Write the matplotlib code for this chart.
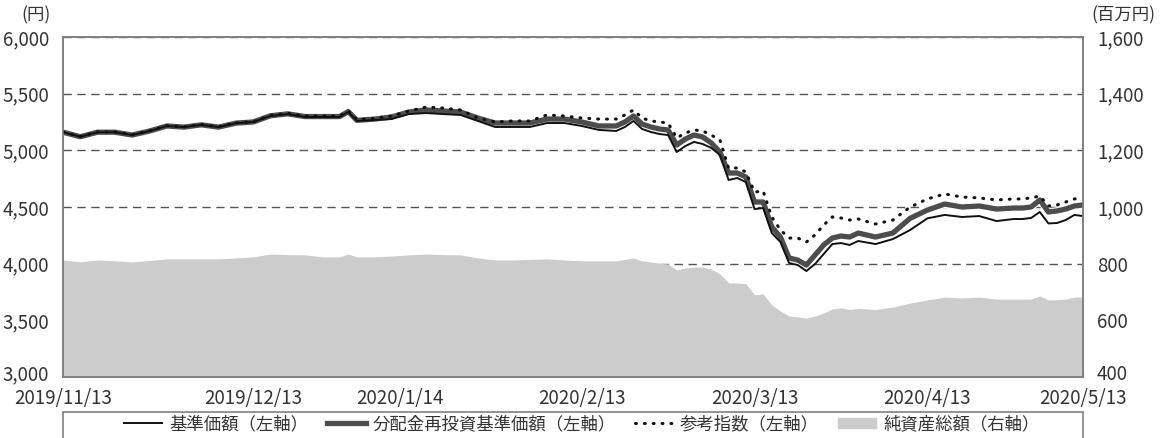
import matplotlib
matplotlib.use("Agg")
import matplotlib.pyplot as plt
import matplotlib.patheffects as pe
import matplotlib.transforms as mtransforms
from matplotlib.patches import Rectangle

plt.rcParams['font.family'] = ['Noto Sans CJK JP', 'DejaVu Sans']

# business-day index of each sample
idx = [0, 2, 4, 6, 8, 10, 12, 14, 16, 18, 20, 22, 24, 26, 28, 30, 32, 33, 34, 36,
       38, 40, 42, 44, 46, 48, 50, 52, 54, 56, 58, 60, 62, 64, 65, 66, 67, 68, 69, 70,
       71, 72, 73, 74, 75, 76, 77, 78, 79, 80, 81, 82, 83, 84, 85, 86, 87, 88, 89, 90,
       91, 92, 94, 96, 98, 100, 102, 104, 106, 108, 110, 111, 112, 113, 114, 115, 116, 117, 118]

# 基準価額 (円)
nav = [5160, 5120, 5160, 5160, 5135, 5170, 5215, 5205, 5225, 5205, 5240, 5250, 5303, 5320, 5294, 5294, 5294, 5338, 5259, 5268,
       5276, 5320, 5329, 5320, 5312, 5259, 5206, 5206, 5206, 5241, 5241, 5215, 5180, 5171, 5206, 5259, 5188, 5162, 5144, 5135,
       4985, 5038, 5074, 5056, 5021, 4959, 4738, 4756, 4720, 4482, 4491, 4270, 4191, 4006, 3988, 3935, 3997, 4085, 4173, 4182,
       4165, 4200, 4173, 4217, 4297, 4400, 4430, 4412, 4420, 4376, 4394, 4394, 4403, 4456, 4355, 4359, 4385, 4430, 4420]

# 分配金再投資基準価額 (円)
nav_reinv = [5160, 5120, 5160, 5160, 5135, 5170, 5215, 5205, 5225, 5205, 5240, 5250, 5305, 5322, 5298, 5298, 5298, 5342, 5265, 5275,
             5294, 5338, 5356, 5347, 5338, 5285, 5241, 5241, 5241, 5276, 5276, 5250, 5215, 5215, 5250, 5303, 5232, 5206, 5188, 5180,
             5047, 5100, 5135, 5118, 5065, 4985, 4800, 4800, 4765, 4544, 4544, 4323, 4235, 4050, 4032, 3988, 4076, 4165, 4226, 4244,
             4235, 4270, 4235, 4270, 4400, 4473, 4526, 4500, 4509, 4482, 4491, 4491, 4500, 4562, 4456, 4465, 4482, 4509, 4518]

# 参考指数 (円)
ref_index = [5162, 5122, 5162, 5162, 5137, 5172, 5217, 5207, 5227, 5207, 5242, 5252, 5308, 5326, 5302, 5302, 5302, 5346, 5270, 5282,
             5303, 5347, 5382, 5373, 5356, 5285, 5250, 5259, 5259, 5312, 5303, 5285, 5276, 5276, 5312, 5356, 5285, 5259, 5250, 5241,
             5109, 5153, 5180, 5171, 5135, 5091, 4844, 4844, 4809, 4632, 4641, 4412, 4297, 4226, 4226, 4191, 4253, 4341, 4412, 4403,
             4385, 4394, 4350, 4385, 4500, 4571, 4615, 4588, 4580, 4562, 4571, 4571, 4580, 4597, 4509, 4518, 4544, 4571, 4580]

# 純資産総額 (百万円)
net_assets = [813, 806, 813, 810, 806, 811, 817, 817, 817, 817, 820, 824, 834, 832, 831, 824, 824, 834, 824, 824,
              827, 831, 834, 832, 831, 820, 813, 813, 815, 817, 813, 810, 810, 810, 815, 820, 810, 806, 802, 799,
              778, 785, 788, 788, 781, 764, 732, 732, 729, 690, 693, 654, 633, 615, 612, 608, 615, 626, 640, 644,
              638, 642, 638, 647, 661, 672, 682, 679, 682, 675, 675, 675, 675, 686, 672, 673, 675, 682, 682]

tick_idx = [0, 22, 39, 60, 80, 100, 118]
tick_labels = ["2019/11/13", "2019/12/13", "2020/1/14", "2020/2/13", "2020/3/13", "2020/4/13", "2020/5/13"]
left_ticks = [3000, 3500, 4000, 4500, 5000, 5500, 6000]
right_ticks = [400, 600, 800, 1000, 1200, 1400, 1600]

fig = plt.figure(figsize=(11.63, 4.38), dpi=100)
ax2 = fig.add_axes([63 / 1163, 1 - 377 / 438, 1020 / 1163, 340 / 438])
ax = ax2.twinx()
ax.yaxis.tick_left()
ax2.yaxis.tick_right()
ax.set_zorder(ax2.get_zorder() + 1)
ax.patch.set_visible(False)

# net assets area + grid (right axis, drawn underneath)
ax2.set_axisbelow(True)
ax2.fill_between(idx, 0, net_assets, color="#cccccc", lw=0, zorder=2)
ax2.set_ylim(400, 1600)
ax2.set_yticks(right_ticks)
ax2.set_yticklabels([f"{v:,}" for v in right_ticks])
ax2.grid(axis="y", color="#555555", linestyle=(0, (6, 4)), linewidth=1.0)
ax2.set_xlim(0, 118)

# price lines (left axis)
l2, = ax.plot(idx, nav_reinv, color="#4d4d4d", lw=3.8,
              path_effects=[pe.Stroke(linewidth=5.5, foreground="white"), pe.Normal()])
l1, = ax.plot(idx, nav, color="#111111", lw=1.4)
l3, = ax.plot(idx, ref_index, color="#111111", lw=2.2, linestyle=(0, (0.3, 2.6)),
              dash_capstyle="round")
ax.set_ylim(3000, 6000)
ax.set_yticks(left_ticks)
ax.set_yticklabels([f"{v:,}" for v in left_ticks])
ax.set_xlim(0, 118)

ax2.set_xticks(tick_idx)
ax2.set_xticklabels(tick_labels)

for a in (ax, ax2):
    for s in a.spines.values():
        s.set_color("#808080")
        s.set_linewidth(1.2)
    a.tick_params(axis="y", length=0, labelsize=13.5, colors="#333333", pad=10)
ax2.tick_params(axis="x", direction="in", length=5, color="#555555",
                labelsize=13.5, labelcolor="#333333", pad=8)
ax.tick_params(axis="x", length=0, labelbottom=False)

# lift the bottom y labels a little so they clear the date labels
lift = mtransforms.ScaledTranslation(0, 5 / 100, fig.dpi_scale_trans)
for lab in (ax.get_yticklabels()[0], ax2.get_yticklabels()[0]):
    lab.set_transform(lab.get_transform() + lift)

fig.text(36 / 1163, 1 - 15 / 438, "(円)", ha="center", va="center", fontsize=12.5, color="#333333")
fig.text(1123 / 1163, 1 - 15 / 438, "(百万円)", ha="center", va="center", fontsize=12.5, color="#333333")

# legend box (bottom edge runs off the figure)
fig.patches.append(Rectangle((63 / 1163, -0.1), 1020 / 1163, (438 - 412) / 438 + 0.1,
                             transform=fig.transFigure, fill=False, edgecolor="#808080", lw=1.2))
fill_handle = plt.Rectangle((0, 0), 1, 1, color="#cccccc")
fig.legend([l1, l2, l3, fill_handle],
           ["基準価額（左軸）", "分配金再投資基準価額（左軸）", "参考指数（左軸）", "純資産総額（右軸）"],
           loc="center", bbox_to_anchor=(582 / 1163, 1 - 424 / 438), ncol=4, frameon=False,
           fontsize=12.5, handlelength=2.2, handleheight=0.5, columnspacing=1.1, handletextpad=0.4,
           labelcolor="#333333")

fig.savefig("out.png", dpi=100)
